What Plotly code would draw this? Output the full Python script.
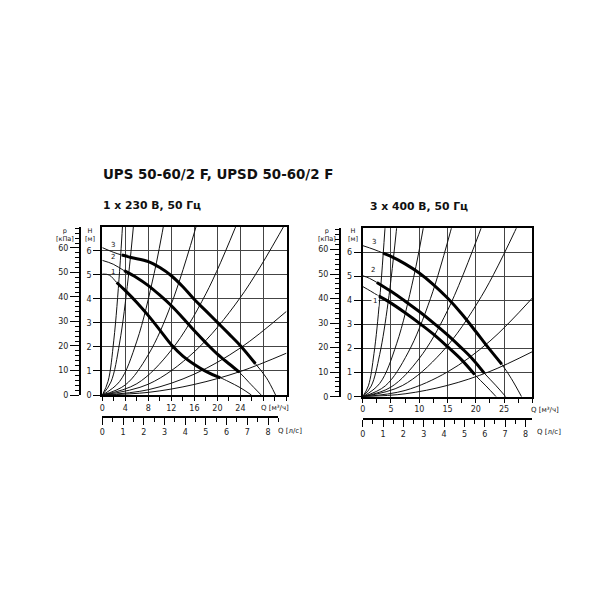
import plotly.graph_objects as go

# ---------------- data ----------------
# Left chart: 1 x 230 V, 50 Hz  (Q in m3/h, H in m)
L_pump_q = [
    [0, 1.2, 2.5, 4, 6, 8, 10, 12, 14, 16, 18, 20, 20.5, 22, 24, 25.9],
    [0, 1.9, 3.8, 6, 8, 10, 12, 14, 16, 18, 20, 22, 23.8, 25.5, 27.6],
    [0, 2, 3.4, 5, 8, 10, 12, 14, 16, 18, 20, 22, 24, 26.6, 28.5, 30.1],
]
L_pump_h = [
    [5.03, 4.99, 4.68, 4.34, 3.85, 3.3, 2.7, 2.09, 1.62, 1.27, 0.98, 0.76, 0.72, 0.55, 0.3, 0.0],
    [5.6, 5.44, 5.17, 4.88, 4.55, 4.15, 3.71, 3.2, 2.67, 2.17, 1.7, 1.3, 0.95, 0.52, 0.0],
    [6.13, 5.93, 5.82, 5.72, 5.55, 5.3, 4.96, 4.5, 3.97, 3.5, 3.02, 2.54, 2.05, 1.3, 0.72, 0.0],
]
L_thick = [(2.5, 20.5), (3.8, 23.8), (3.4, 26.6)]

L_sys_q = [
    [0, 1, 2, 3, 3.6],
    [0, 1.5, 3, 4.5, 5.6],
    [0, 3, 6, 9, 11],
    [0, 4, 8, 12, 16.8],
    [0, 6, 12, 18, 24],
    [0, 8, 16, 24, 32],
    [0, 8, 16, 24, 32],
    [0, 8, 16, 24, 32],
]
L_sys_h = [
    [0, 0.57, 2.28, 5.14, 7.4],
    [0, 0.54, 2.16, 4.86, 7.53],
    [0, 0.56, 2.24, 5.05, 7.54],
    [0, 0.42, 1.68, 3.79, 7.42],
    [0, 0.47, 1.87, 4.21, 7.49],
    [0, 0.45, 1.8, 4.06, 7.22],
    [0, 0.22, 0.87, 1.96, 3.48],
    [0, 0.11, 0.44, 0.98, 1.74],
]

# Right chart: 3 x 400 V, 50 Hz
R_pump_q = [
    [0, 1.4, 2.8, 5, 7.5, 10, 12.5, 15, 17.5, 19.8, 21.8, 23.6],
    [0, 1.2, 2.5, 5, 7.5, 10, 12.5, 15, 17.5, 19.5, 21.5, 23.5, 25.3],
    [0, 2, 3.6, 5, 7.5, 10, 12.5, 15, 17.5, 20, 22, 24.6, 26.3, 28.1],
]
R_pump_h = [
    [4.58, 4.39, 4.19, 3.89, 3.49, 3.06, 2.6, 2.08, 1.53, 0.92, 0.45, 0.0],
    [5.03, 4.92, 4.75, 4.38, 3.97, 3.54, 3.07, 2.57, 2.02, 1.55, 0.98, 0.48, 0.0],
    [6.28, 6.12, 5.97, 5.83, 5.52, 5.14, 4.66, 4.1, 3.45, 2.71, 2.1, 1.35, 0.75, 0.0],
]
R_thick = [(2.8, 19.8), (2.5, 21.5), (3.6, 24.6)]

R_sys_q = [
    [0, 1, 2, 3, 4.1],
    [0, 1.5, 3, 4.5, 6.2],
    [0, 3, 6, 9, 11],
    [0, 4, 8, 12, 16.2],
    [0, 5, 10, 15, 21.6],
    [0, 7, 14, 21, 28],
    [0, 7.5, 15, 22.5, 30],
    [0, 7.5, 15, 22.5, 30],
]
R_sys_h = [
    [0, 0.45, 1.8, 4.04, 7.55],
    [0, 0.44, 1.75, 3.93, 7.46],
    [0, 0.55, 2.2, 4.95, 7.39],
    [0, 0.45, 1.82, 4.09, 7.45],
    [0, 0.4, 1.59, 3.58, 7.42],
    [0, 0.46, 1.85, 4.17, 7.42],
    [0, 0.26, 1.03, 2.31, 4.1],
    [0, 0.12, 0.47, 1.05, 1.87],
]

curve_labels = ["1", "2", "3"]
L_label_pos = [(1.8, 5.13), (1.8, 5.74), (1.9, 6.25)]
R_label_pos = [(2.2, 3.99), (1.9, 5.27), (2.0, 6.44)]

L_q_ticks = [0, 4, 8, 12, 16, 20, 24, 28]
L_q_text = ["0", "4", "8", "12", "16", "20", "24", ""]
R_q_ticks = [0, 5, 10, 15, 20, 25]
H_ticks = [0, 1, 2, 3, 4, 5, 6]
P_ticks = [0, 10, 20, 30, 40, 50, 60]
LS_ticks = [0, 1, 2, 3, 4, 5, 6, 7, 8]

title = "UPS 50-60/2 F, UPSD 50-60/2 F"
sub_left = "1 x 230 В, 50 Гц"
sub_right = "3 x 400 В, 50 Гц"

# ---------------- layout helpers ----------------
W = H = 600
def X(px):
    return px / W
def Y(py):
    return 1 - py / H

FONT = "DejaVu Sans"
tickfont = dict(family=FONT, size=8, color="#222")

fig = go.Figure()

def add_chart(xa, ya, sys_q, sys_h, pump_q, pump_h, thick):
    for q, h in zip(sys_q, sys_h):
        fig.add_trace(go.Scatter(x=q, y=h, mode="lines", xaxis=xa, yaxis=ya,
                                 line=dict(color="#111", width=1, shape="spline"),
                                 hoverinfo="skip", showlegend=False))
    for q, h, (a, b) in zip(pump_q, pump_h, thick):
        fig.add_trace(go.Scatter(x=q, y=h, mode="lines", xaxis=xa, yaxis=ya,
                                 line=dict(color="#111", width=1, shape="spline"),
                                 hoverinfo="skip", showlegend=False))
        tq = [qq for qq in q if a <= qq <= b]
        th = [hh for qq, hh in zip(q, h) if a <= qq <= b]
        fig.add_trace(go.Scatter(x=tq, y=th, mode="lines", xaxis=xa, yaxis=ya,
                                 line=dict(color="#000", width=3, shape="spline"),
                                 hoverinfo="skip", showlegend=False))

add_chart("x", "y", L_sys_q, L_sys_h, L_pump_q, L_pump_h, L_thick)
add_chart("x2", "y2", R_sys_q, R_sys_h, R_pump_q, R_pump_h, R_thick)

# invisible traces to activate the secondary axes
for xa, ya in [("x", "y3"), ("x2", "y4"), ("x3", "y5"), ("x4", "y6")]:
    fig.add_trace(go.Scatter(x=[0], y=[0], xaxis=xa, yaxis=ya, mode="markers",
                             marker=dict(opacity=0), hoverinfo="skip", showlegend=False))

L_dom_x = [X(102.3), X(286.5)]
L_dom_y = [Y(395), Y(226.7)]
R_dom_x = [X(362.7), X(532.3)]
R_dom_y = [Y(396.7), Y(228.3)]

grid = dict(showgrid=True, gridcolor="#444", gridwidth=1.2, zeroline=False,
            showline=True, linecolor="black", linewidth=2, mirror=True,
            ticks="outside", tickcolor="black", tickfont=tickfont, automargin=False)

free_common = dict(ticks="outside", tickcolor="black", showline=True, linecolor="black",
                   linewidth=2, showgrid=False, zeroline=False, tickfont=tickfont,
                   automargin=False)

fig.update_layout(
    width=W, height=H, margin=dict(l=0, r=0, t=0, b=0, pad=0),
    paper_bgcolor="white", plot_bgcolor="rgba(0,0,0,0)", showlegend=False,
    xaxis=dict(domain=L_dom_x, range=[0, 32], anchor="y", tickvals=L_q_ticks,
               ticktext=L_q_text, ticklen=4,
               minor=dict(dtick=2, ticklen=4, ticks="outside", tickcolor="black", showgrid=False),
               **grid),
    yaxis=dict(domain=L_dom_y, range=[0, 7], anchor="x", tickvals=H_ticks, ticklen=7, **grid),
    xaxis2=dict(domain=R_dom_x, range=[0, 30], anchor="y2", tickvals=R_q_ticks + [30],
                ticktext=[str(v) for v in R_q_ticks] + [""], ticklen=4,
                minor=dict(dtick=2.5, ticklen=4, ticks="outside", tickcolor="black", showgrid=False),
                **grid),
    yaxis2=dict(domain=R_dom_y, range=[0, 7], anchor="x2", tickvals=H_ticks, ticklen=7, **grid),
    yaxis3=dict(overlaying="y", anchor="free", position=X(80), range=[0, 7 * 9.81],
                tickvals=P_ticks, ticklen=9,
                minor=dict(dtick=2, ticklen=4, ticks="outside", tickcolor="black"),
                **free_common),
    yaxis4=dict(overlaying="y2", anchor="free", position=X(340), range=[0, 7 * 9.81],
                tickvals=P_ticks, ticklen=9,
                minor=dict(dtick=2, ticklen=4, ticks="outside", tickcolor="black"),
                **free_common),
    xaxis3=dict(domain=[X(102.3), X(102.3 + 8.5 * 20.72)], range=[0, 8.5], anchor="free",
                position=Y(417), tickvals=LS_ticks, ticklen=7,
                minor=dict(dtick=0.5, ticklen=4, ticks="outside", tickcolor="black"),
                **free_common),
    xaxis4=dict(domain=R_dom_x, range=[0, 30 / 3.6], anchor="free",
                position=Y(419), tickvals=LS_ticks, ticklen=7,
                minor=dict(dtick=0.5, ticklen=4, ticks="outside", tickcolor="black"),
                **free_common),
    yaxis5=dict(domain=[Y(418), Y(416)], visible=False, anchor="x3", range=[0, 1]),
    yaxis6=dict(domain=[Y(420), Y(418)], visible=False, anchor="x4", range=[0, 1]),
)

anns = []
def pa(text, x, y, size=7, xanchor="center", bold=False):
    anns.append(dict(text=f"<b>{text}</b>" if bold else text, x=X(x), y=Y(y),
                     xref="paper", yref="paper", showarrow=False, xanchor=xanchor,
                     yanchor="middle", font=dict(family=FONT, size=size, color="#111")))

pa(title, 101, 174, size=13.4, xanchor="left", bold=True)
pa(sub_left, 101, 205, size=10.8, xanchor="left", bold=True)
pa(sub_right, 368, 207, size=10.8, xanchor="left", bold=True)
for px0, hx in [(64.5, 90), (327.5, 352.5)]:
    pa("p<br>[кПа]", px0, 235, size=6.5)
    pa("H<br>[м]", hx, 235, size=6.5)
pa("Q [м³/ч]", 275, 408, size=7)
pa("Q [л/с]", 290, 431, size=7)
pa("Q [м³/ч]", 545, 410, size=7)
pa("Q [л/с]", 549, 432, size=7)

for lab, (q, h) in zip(curve_labels, L_label_pos):
    anns.append(dict(text=lab, x=q, y=h, xref="x", yref="y", showarrow=False,
                     font=dict(family=FONT, size=7, color="#111")))
for lab, (q, h) in zip(curve_labels, R_label_pos):
    anns.append(dict(text=lab, x=q, y=h, xref="x2", yref="y2", showarrow=False,
                     bgcolor="white" if lab == "1" else None,
                     font=dict(family=FONT, size=7, color="#111")))

fig.update_layout(annotations=anns)
fig.write_html("out.html", config={"displayModeBar": False},
               post_script="document.body.style.margin='0px';")
